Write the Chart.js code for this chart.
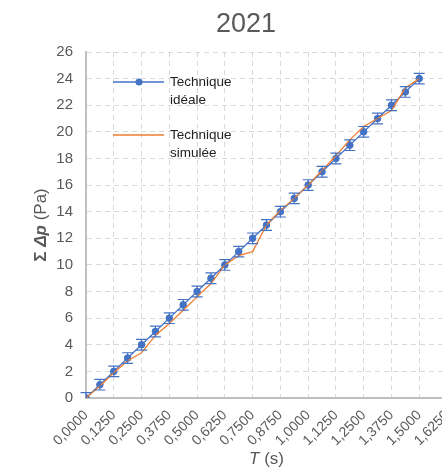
<!DOCTYPE html>
<html>
<head>
<meta charset="utf-8">
<script src="https://cdn.jsdelivr.net/npm/chart.js@4.4.1/dist/chart.umd.min.js"></script>
<style>
  html, body { margin: 0; padding: 0; background: #fff; overflow: hidden; }
  #wrap { width: 442px; height: 468px; overflow: hidden; }
</style>
</head>
<body>
<div id="wrap"><canvas id="chart2021" width="470" height="468"></canvas></div>
<script>
// temps (s)
var temps = [0, 0.0625, 0.125, 0.1875, 0.25, 0.3125, 0.375, 0.4375, 0.5, 0.5625, 0.625, 0.6875,
             0.75, 0.8125, 0.875, 0.9375, 1.0, 1.0625, 1.125, 1.1875, 1.25, 1.3125, 1.375, 1.4375, 1.5];

// Technique idéale
var dpIdeale = [0, 1, 2, 3, 4, 5, 6, 7, 8, 9, 10, 11, 12, 13, 14, 15, 16, 17, 18, 19, 20, 21, 22, 23, 24];
var erreurIdeale = [0.4, 0.4, 0.4, 0.4, 0.4, 0.4, 0.4, 0.4, 0.4, 0.4, 0.4, 0.4, 0.4, 0.4, 0.4, 0.4,
                    0.4, 0.4, 0.4, 0.4, 0.4, 0.4, 0.4, 0.4, 0.4];

// Technique simulée
var dpSimulee = [0, 0.9, 1.9, 2.8, 3.4, 4.7, 5.6, 6.6, 7.6, 8.6, 10.0, 10.7, 11.0, 13.0, 14.1, 15.0,
                 16.0, 17.1, 18.2, 19.4, 20.4, 21.0, 21.6, 23.3, 24.0];

var legendLabels = [['Technique', 'idéale'], ['Technique', 'simulée']];
var titre = '2021';

var bleu = '#4472C4';
var orange = '#ED7D31';
var gris = '#595959';

function toXY(xs, ys){
    var out = [];
    for (var i = 0; i < xs.length; i++) out.push({x: xs[i], y: ys[i]});
    return out;
}

// error bars, title, legend and axis titles
var extras = {
    id: 'extras',
    afterDatasetsDraw: function(chart){
        var ctx = chart.ctx;
        var area = chart.chartArea;
        var xs = chart.scales.x, ys = chart.scales.y;
        ctx.save();
        // error bars stay inside the plot
        ctx.beginPath();
        ctx.rect(area.left - 8, area.top, area.right - area.left + 16, area.bottom - area.top);
        ctx.clip();
        ctx.strokeStyle = bleu;
        ctx.lineWidth = 1.2;
        for (var i = 0; i < temps.length; i++){
            var px = xs.getPixelForValue(temps[i]);
            var top = ys.getPixelForValue(dpIdeale[i] + erreurIdeale[i]);
            var bot = ys.getPixelForValue(dpIdeale[i] - erreurIdeale[i]);
            ctx.beginPath();
            ctx.moveTo(px, top); ctx.lineTo(px, bot);
            ctx.moveTo(px - 5.5, top); ctx.lineTo(px + 5.5, top);
            ctx.moveTo(px - 5.5, bot); ctx.lineTo(px + 5.5, bot);
            ctx.stroke();
        }
        ctx.restore();
    },
    afterDraw: function(chart){
        var ctx = chart.ctx;
        var area = chart.chartArea;
        ctx.save();

        // titre
        ctx.fillStyle = gris;
        ctx.font = '27px "Liberation Sans Narrow", "Liberation Sans", sans-serif';
        ctx.textAlign = 'center';
        ctx.textBaseline = 'middle';
        ctx.fillText(titre, 246, 25);

        // legende
        var colors = [bleu, orange];
        var ly = [82, 135];
        ctx.font = '13.5px "Liberation Sans", sans-serif';
        ctx.textAlign = 'left';
        for (var k = 0; k < 2; k++){
            ctx.strokeStyle = colors[k];
            ctx.lineWidth = 1.3;
            ctx.beginPath();
            ctx.moveTo(113, ly[k]); ctx.lineTo(164, ly[k]);
            ctx.stroke();
            if (k == 0){
                ctx.fillStyle = bleu;
                ctx.beginPath();
                ctx.arc(139, ly[k], 3.5, 0, Math.PI * 2);
                ctx.fill();
            }
            ctx.fillStyle = '#222';
            ctx.fillText(legendLabels[k][0], 170, ly[k]);
            ctx.fillText(legendLabels[k][1], 170, ly[k] + 18);
        }

        // titre axe x : T (s)
        ctx.fillStyle = gris;
        ctx.textBaseline = 'middle';
        var fIt = 'italic 17px "Liberation Sans", sans-serif';
        var fNo = '17px "Liberation Sans", sans-serif';
        ctx.font = fIt; var w1 = ctx.measureText('T').width;
        ctx.font = fNo; var w2 = ctx.measureText(' (s)').width;
        var cx = (area.left + area.right) / 2;
        var sx = cx - (w1 + w2) / 2;
        ctx.font = fIt; ctx.fillText('T', sx, 459);
        ctx.font = fNo; ctx.fillText(' (s)', sx + w1, 459);

        // titre axe y : Σ Δp (Pa)
        var parts = [
            ['Σ ', 'bold 17px "Liberation Sans", sans-serif'],
            ['Δp', 'bold italic 17px "Liberation Sans", sans-serif'],
            [' (Pa)', '17px "Liberation Sans", sans-serif']
        ];
        var total = 0;
        parts.forEach(function(p){ ctx.font = p[1]; p.push(ctx.measureText(p[0]).width); total += p[2]; });
        ctx.translate(41, (area.top + area.bottom) / 2);
        ctx.rotate(-Math.PI / 2);
        var pos = -total / 2;
        parts.forEach(function(p){ ctx.font = p[1]; ctx.fillText(p[0], pos, 0); pos += p[2]; });

        ctx.restore();
    }
};

var ctx = document.getElementById('chart2021').getContext('2d');
var myChart = new Chart(ctx, {
    type: 'line',
    data: {
        datasets: [{
            label: 'Technique idéale',
            data: toXY(temps, dpIdeale),
            borderColor: bleu,
            backgroundColor: bleu,
            borderWidth: 1.3,
            pointRadius: 3.3,
            pointBorderWidth: 1,
            pointBackgroundColor: bleu,
            pointBorderColor: bleu,
            tension: 0,
            order: 2
        }, {
            label: 'Technique simulée',
            data: toXY(temps, dpSimulee),
            borderColor: orange,
            backgroundColor: orange,
            borderWidth: 1.3,
            pointRadius: 0,
            tension: 0,
            order: 1
        }]
    },
    options: {
        responsive: false,
        animation: false,
        devicePixelRatio: 1,
        layout: { padding: { top: 52, right: 23, left: 0, bottom: 0 } },
        plugins: {
            legend: { display: false },
            title: { display: false },
            tooltip: { enabled: false }
        },
        scales: {
            x: {
                type: 'linear',
                min: 0,
                max: 1.625,
                afterFit: function(scale){ scale.height = 70; },
                afterBuildTicks: function(scale){
                    scale.ticks = [];
                    for (var v = 0; v <= 13; v++) scale.ticks.push({value: v * 0.125});
                },
                ticks: {
                    color: gris,
                    font: { family: '"Liberation Sans Narrow", "Liberation Sans", sans-serif', size: 14 },
                    minRotation: 45,
                    maxRotation: 45,
                    padding: 9,
                    autoSkip: false,
                    callback: function(v){ return v.toFixed(4).replace('.', ','); }
                },
                grid: { color: '#D9D9D9', drawTicks: false, lineWidth: 1 },
                border: { display: true, color: '#BFBFBF', width: 2, dash: [5, 4] }
            },
            y: {
                min: 0,
                max: 26,
                afterFit: function(scale){ scale.width = 86; },
                ticks: {
                    stepSize: 2,
                    color: gris,
                    font: { family: '"Liberation Sans Narrow", "Liberation Sans", sans-serif', size: 15 },
                    padding: 13
                },
                grid: { color: '#D9D9D9', drawTicks: false, lineWidth: 1 },
                border: { display: true, color: '#BFBFBF', width: 2, dash: [5, 4] }
            }
        }
    },
    plugins: [extras]
});
</script>
</body>
</html>
